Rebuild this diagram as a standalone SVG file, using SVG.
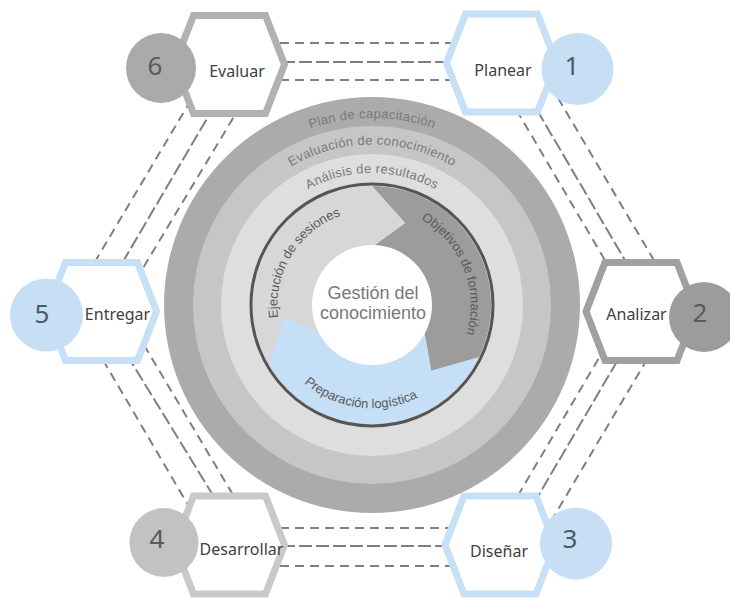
<svg xmlns="http://www.w3.org/2000/svg" width="730" height="598" viewBox="0 0 730 598">
  <style>
    .dash{fill:none;stroke:#7f7f7f;stroke-width:2;stroke-dasharray:9 6}
    .dash.mid{stroke-dasharray:13 4}
    .hex{fill:#fff;stroke-width:7;stroke-linejoin:miter}
    .hex-blue{stroke:#c7e0f6}
    .dot-blue{fill:#c6dff5}
    .lbl{font-family:"Noto Sans","Open Sans",sans-serif;font-size:16px;fill:#404040;text-anchor:middle}
    .num{font-family:"Noto Sans","Open Sans",sans-serif;font-size:26px;text-anchor:middle;fill:#5a5a5a}
    .num-blue{fill:#4e5966}
    .ring-t{font-family:"Liberation Sans",Arial,sans-serif;font-size:13px;fill:#7a7a7a;letter-spacing:0.3px}
    .arr-t{font-family:"Liberation Sans",Arial,sans-serif;font-size:13px;fill:#5a5a5a}
    .core-t{font-family:"Liberation Sans",Arial,sans-serif;font-size:18px;fill:#787878;text-anchor:middle}
  </style>
  <defs>
    <polygon id="hex" points="-55,0 -36,-49 36,-49 55,0 36,49 -36,49"/>
    <!-- baselines for the curved labels, centred on the wheel (372,305) -->
    <path id="p-plan" d="M185,305 A187,187 0 0 1 559,305"/>
    <path id="p-eval" d="M211.5,305 A160.5,160.5 0 0 1 532.5,305"/>
    <path id="p-anal" d="M240,305 A132,132 0 0 1 504,305"/>
    <path id="p-ejec" d="M322.1,386.42 A95.5,95.5 0 0 1 421.9,223.58"/>
    <path id="p-obj" d="M335.53,212.43 A99.5,99.5 0 0 1 408.47,397.57"/>
    <path id="p-prep" d="M268.87,291.6 A104,104 0 0 0 475.13,318.4"/>
  </defs>

  <!-- dashed links between the six steps -->
  <g id="connectors">
    <line class="dash" x1="265" y1="43" x2="465" y2="43"/>
    <line class="dash mid" x1="265" y1="62" x2="465" y2="62"/>
    <line class="dash" x1="265" y1="80" x2="465" y2="80"/>

    <line class="dash" x1="265" y1="528" x2="465" y2="528"/>
    <line class="dash mid" x1="265" y1="546" x2="465" y2="546"/>
    <line class="dash" x1="265" y1="566" x2="465" y2="566"/>

    <line class="dash" x1="191" y1="100" x2="93" y2="265"/>
    <line class="dash mid" x1="215" y1="105" x2="121" y2="265"/>
    <line class="dash" x1="241" y1="105" x2="143" y2="268"/>

    <line class="dash" x1="558" y1="98" x2="655" y2="262"/>
    <line class="dash mid" x1="537" y1="110" x2="626" y2="262"/>
    <line class="dash" x1="516.5" y1="110" x2="606" y2="262"/>

    <line class="dash" x1="103" y1="360" x2="191" y2="510"/>
    <line class="dash mid" x1="127" y1="355" x2="219" y2="505"/>
    <line class="dash" x1="144" y1="345" x2="239" y2="505"/>

    <line class="dash" x1="606" y1="346" x2="516.5" y2="498"/>
    <line class="dash mid" x1="626" y1="346" x2="537" y2="498"/>
    <line class="dash" x1="655" y1="346" x2="553" y2="518"/>
  </g>

  <!-- central wheel -->
  <g id="wheel">
    <circle cx="372" cy="305" r="208" fill="#ababab"/>
    <circle cx="372" cy="305" r="179" fill="#c6c6c6"/>
    <circle cx="372" cy="305" r="151" fill="#dedede"/>

    <path id="arrow-objetivos" fill="#9c9c9c" d="M372,186 A119,119 0 0 1 478.96,357.17 L431.22,370.77 L424.13,330.43 A58,58 0 0 0 372,247 L405.15,222.94 Z"/>
    <path id="arrow-preparacion" fill="#c5dff6" d="M478.96,357.17 A119,119 0 0 1 268.94,364.5 L284.36,317.32 L321.77,334 A58,58 0 0 0 424.13,330.43 L431.22,370.77 Z"/>
    <path id="arrow-ejecucion" fill="#d7d7d7" d="M268.94,364.5 A119,119 0 0 1 372,186 L405.15,222.94 L372,247 A58,58 0 0 0 321.77,334 L284.36,317.32 Z"/>

    <circle cx="372" cy="305" r="60" fill="#fff"/>
    <circle cx="372" cy="305" r="121" fill="none" stroke="#555" stroke-width="3"/>

    <text class="ring-t"><textPath href="#p-plan" startOffset="50%" text-anchor="middle">Plan de capacitación</textPath></text>
    <text class="ring-t"><textPath href="#p-eval" startOffset="50%" text-anchor="middle">Evaluación de conocimiento</textPath></text>
    <text class="ring-t"><textPath href="#p-anal" startOffset="50%" text-anchor="middle">Análisis de resultados</textPath></text>

    <text class="arr-t" fill="#6a6a6a"><textPath href="#p-ejec" startOffset="50%" text-anchor="middle">Ejecución de sesiones</textPath></text>
    <text class="arr-t"><textPath href="#p-obj" startOffset="50%" text-anchor="middle">Objetivos de formación</textPath></text>
    <text class="arr-t"><textPath href="#p-prep" startOffset="50%" text-anchor="middle">Preparación logística</textPath></text>

    <text class="core-t" x="373" y="299">Gestión del</text>
    <text class="core-t" x="373" y="319">conocimiento</text>
  </g>

  <!-- the six steps -->
  <g id="node-planear">
    <use href="#hex" x="501.5" y="63" class="hex hex-blue"/>
    <circle class="dot-blue" cx="577.5" cy="69" r="36"/>
    <text class="num num-blue" x="572" y="75">1</text>
    <text class="lbl" x="503" y="76">Planear</text>
  </g>
  <g id="node-analizar">
    <use href="#hex" x="641" y="311.5" class="hex" stroke="#a0a0a0"/>
    <circle cx="704" cy="317" r="35" fill="#9c9c9c"/>
    <text class="num" x="700" y="322">2</text>
    <text class="lbl" x="636.5" y="320">Analizar</text>
  </g>
  <g id="node-disenar">
    <use href="#hex" x="500" y="545" class="hex hex-blue"/>
    <circle class="dot-blue" cx="576" cy="543.5" r="36"/>
    <text class="num num-blue" x="570" y="548">3</text>
    <text class="lbl" x="499" y="557">Diseñar</text>
  </g>
  <g id="node-desarrollar">
    <use href="#hex" x="229.5" y="545" class="hex" stroke="#c9c9c9"/>
    <circle cx="164" cy="542.5" r="34.5" fill="#c2c2c2"/>
    <text class="num" x="157" y="548">4</text>
    <text class="lbl" x="241.5" y="555">Desarrollar</text>
  </g>
  <g id="node-entregar">
    <use href="#hex" x="101.5" y="311.5" class="hex hex-blue"/>
    <circle class="dot-blue" cx="46.5" cy="315" r="36.5"/>
    <text class="num num-blue" x="42" y="323">5</text>
    <text class="lbl" x="117.5" y="320">Entregar</text>
  </g>
  <g id="node-evaluar">
    <use href="#hex" x="229.5" y="64.5" class="hex" stroke="#b1b1b1"/>
    <circle cx="161" cy="68" r="35" fill="#aaaaaa"/>
    <text class="num" x="155" y="75">6</text>
    <text class="lbl" x="237" y="77">Evaluar</text>
  </g>
</svg>
